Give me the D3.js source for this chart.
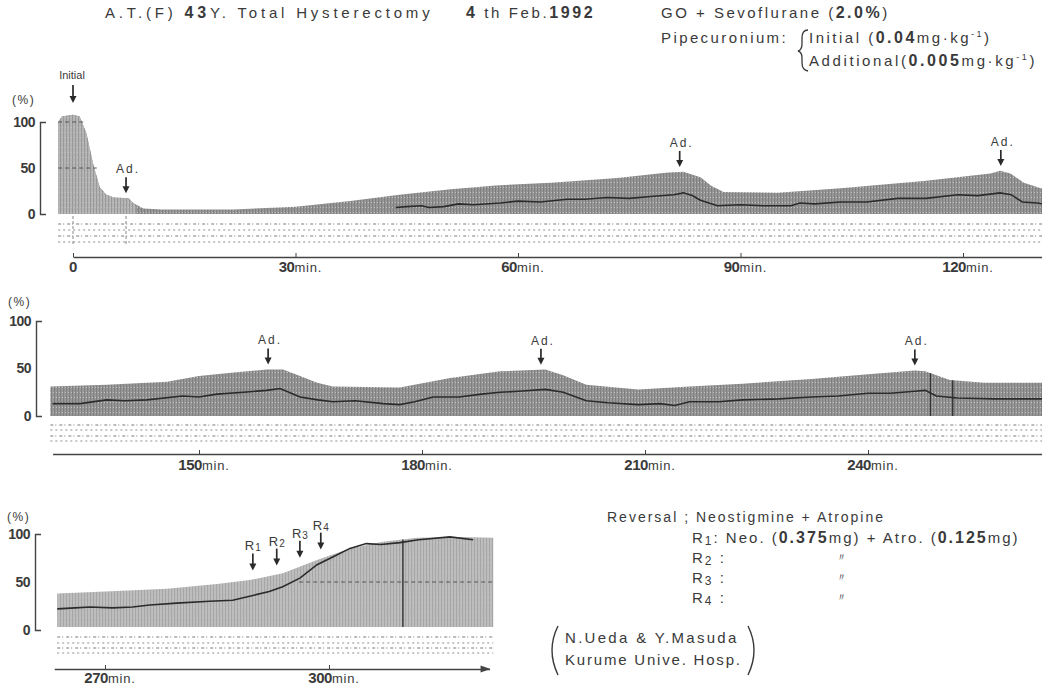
<!DOCTYPE html>
<html>
<head>
<meta charset="utf-8">
<script src="https://cdn.jsdelivr.net/npm/d3@7"></script>
<style>
body { margin: 0; background: #fff; }
text { font-family: "Liberation Sans", Arial, sans-serif; fill: #3a3a3a; }
</style>
</head>
<body>
<div class="chart"></div>
<script>
// readings off the record: [minute, %]
// envelope = height of the twitch bars, ratio = the dark trace inside
var env1 = [[-2,100],[-1.5,106],[0,108],[0.9,106],[1.8,88],[2.7,55],[3.6,29],[4.5,21],[5.5,18],[7.5,17],
    [8.1,12],[9.5,6],[12,5],[21.6,5],[30,8],[37.4,14],[44,21],[50.9,27],[57,31],[64.4,34],[73.4,39],
    [80.2,45],[82.3,46],[84.6,40],[86,31],[87.7,24],[95,23],[103.5,28],[114.7,36],[123.7,44],[125,47],
    [126.4,44],[128.2,34],[130.5,28],[131.5,27]];
var ratio1 = [[43.5,7],[45,8],[47,9],[48,7],[50,8],[52,11],[54,10],[57.6,12],[60,14],[63,13],[66.6,16],
    [69,16],[72,18],[75,17],[77.9,19],[81,21],[82.3,23],[83.5,20],[84.6,15],[86.9,9],[90,10],[93,9],
    [96.8,9],[98,12],[100,11],[103.5,13],[107,13],[111.2,17],[115,17],[119.3,21],[122,20],[125,23],
    [126.5,21],[128,13],[130,12],[131.5,10]];

var env2 = [[130,31],[137.6,33],[145.7,36],[150,42],[155,46],[159.1,49],[161.3,49],[163.6,42],[165.9,35],
    [168,31],[177,30],[183.8,40],[190.5,47],[196.6,49],[199,43],[202.1,33],[209.1,28],[216,31],
    [223.1,34],[232.4,39],[240,44],[246.3,48],[247.7,47],[251,38],[255.7,35],[263.1,35],[264,35]];
var ratio2 = [[130.3,13],[134,13],[137.6,17],[140,16],[143,17],[147.8,21],[150,20],[152.4,23],
    [156,25],[159.1,27],[160.9,29],[163.6,20],[166,17],[168,15],[171,16],[174.8,13],[177,12],
    [179,15],[181.5,20],[185,20],[188,23],[190.5,25],[193,26],[196.6,28],[199,25],[202.1,16],[205,14],
    [209.1,12],[212,13],[214,11],[216,15],[220,15],[223.1,17],[228,18],[232.4,20],[236,21],[240,24],
    [243,24],[246.3,26],[247.7,27],[249.2,21],[252,19],[257,18],[263.1,18],[264,18]];

var env3 = [[263.6,38],[270,40],[278.3,43],[285,48],[289.4,52],[293.8,59],[298.4,73],[302.8,85],
    [307.2,92],[311.8,96],[318,97],[322,96]];
var ratio3 = [[263.6,22],[266,23],[268,24],[271,23],[273.7,24],[276,26],[279.6,28],[284,30],
    [287.1,31],[289.8,36],[292,40],[293.8,45],[296.1,54],[298.4,68],[300.5,76],[302.8,85],[305,90],
    [307,89],[309.5,91],[312,94],[316.2,97],[319.3,94]];

var envFloor = [0, 0, 3];
var yTicks = [0, 50, 100];
var xTicks1 = [0, 30, 60, 90, 120];
var xTicks2 = [150, 180, 210, 240];
var xTicks3 = [270, 300];

var initialTime = 0;
var adTimes1 = [7.15, 81.8, 125.1];
var adTimes2 = [159.3, 196, 246.3];
var reversalTimes = [289.8, 293, 296.1, 298.9];
var reversalSubs = ["1", "2", "3", "4"];
var markTimes2 = [248.4, 251.4];
var markTimes3 = [309.9];
// dashed reference marks: [level %, from min, to min]
var refDash1 = [[100, -2, 1.5], [50, -2, 3.2]];
var refDash3 = [[50, 296, 322]];

var svgWidth = 1042;
var svgHeight = 686;

var svg = d3.select(".chart")
    .append("svg")
    .attr("width", svgWidth)
    .attr("height", svgHeight);

var defs = svg.append("defs");
function stripes(id, base, line) {
    var p = defs.append("pattern").attr("id", id)
        .attr("patternUnits", "userSpaceOnUse").attr("width", 3).attr("height", 5);
    p.append("rect").attr("width", 3).attr("height", 5).attr("fill", base);
    p.append("rect").attr("x", 0).attr("width", 1).attr("height", 5).attr("fill", line);
    p.append("rect").attr("x", 2).attr("y", 2).attr("width", 1).attr("height", 1).attr("fill", "#c4c4c4");
}
stripes("shade", "#969696", "#808080");
stripes("light", "#bcbcbc", "#a6a6a6");
stripes("early", "#b3b3b3", "#999999");

// one entry per strip of the record
var panels = [
    {env: env1, ratio: ratio1, floor: envFloor[0], ticks: xTicks1, px: [73, 963], tRange: [-2, 131.5],
     axisFrom: 0, axisTo: 131.5, yPx: [214, 122], axisX: 40, axisY: 257, labelY: 272, pctY: 104,
     band: [224, 230, 236, 242], fill: "url(#shade)", marks: [], dash: refDash1},
    {env: env2, ratio: ratio2, floor: envFloor[1], ticks: xTicks2, px: [199, 868], tRange: [130, 264],
     axisFrom: 130.3, axisTo: 264, yPx: [416, 321], axisX: 36, axisY: 454, labelY: 470, pctY: 306,
     band: [425, 430, 436, 441], fill: "url(#shade)", marks: markTimes2, dash: []},
    {env: env3, ratio: ratio3, floor: envFloor[2], ticks: xTicks3, px: [105, 329], tRange: [263.6, 322],
     axisFrom: 263.2, axisTo: 321.5, yPx: [630, 534], axisX: 35, axisY: 669, labelY: 683, pctY: 521,
     band: [637, 643, 648, 653], fill: "url(#light)", marks: markTimes3, dash: refDash3, arrow: true}
];

function downArrow(g, x, tipY, len) {
    g.append("line")
        .attr("x1", x).attr("x2", x)
        .attr("y1", tipY - len).attr("y2", tipY - 5)
        .attr("stroke", "#2a2a2a").attr("stroke-width", 1.7);
    g.append("path")
        .attr("d", "M" + (x - 3.5) + "," + (tipY - 7) + "L" + (x + 3.5) + "," + (tipY - 7) + "L" + x + "," + tipY + "Z")
        .attr("fill", "#2a2a2a");
}

function envAt(env, t) {
    var i = d3.bisector(d => d[0]).left(env, t);
    if (i <= 0) return env[0][1];
    if (i >= env.length) return env[env.length - 1][1];
    var a = env[i - 1], b = env[i];
    return a[1] + (b[1] - a[1]) * (t - a[0]) / (b[0] - a[0]);
}

panels.forEach(function(p, k) {
    var g = svg.append("g");
    var x = d3.scaleLinear().domain([p.ticks[0], p.ticks[p.ticks.length - 1]]).range(p.px);
    var y = d3.scaleLinear().domain([0, 100]).range(p.yPx);

    // grey bar envelope
    var area = d3.area()
        .x(d => x(d[0]))
        .y0(y(p.floor))
        .y1(d => y(d[1]));
    g.append("path").datum(p.env).attr("d", area).attr("fill", p.fill);

    if (k === 0) {
        // the first minutes are printed lighter
        defs.append("clipPath").attr("id", "earlyClip")
            .append("rect").attr("x", 0).attr("y", 0).attr("width", x(8.5)).attr("height", svgHeight);
        g.append("path").datum(p.env).attr("d", area)
            .attr("fill", "url(#early)").attr("clip-path", "url(#earlyClip)");
    }

    p.marks.forEach(function(t) {
        g.append("line")
            .attr("x1", x(t)).attr("x2", x(t))
            .attr("y1", y(envAt(p.env, t))).attr("y2", y(p.floor))
            .attr("stroke", "#333").attr("stroke-width", 1.4);
    });

    p.dash.forEach(function(d) {
        g.append("line")
            .attr("x1", x(d[1])).attr("x2", x(d[2]))
            .attr("y1", y(d[0])).attr("y2", y(d[0]))
            .attr("stroke", "#555").attr("stroke-width", 1.2)
            .attr("stroke-dasharray", "4,3");
    });

    // dark ratio trace
    g.append("path").datum(p.ratio)
        .attr("d", d3.line().x(d => x(d[0])).y(d => y(d[1])))
        .attr("fill", "none").attr("stroke", "#2b2b2b").attr("stroke-width", 1.6);

    // printed numeric rows under the record
    p.band.forEach(function(by, j) {
        g.append("line")
            .attr("x1", x(p.tRange[0])).attr("x2", Math.min(x(p.tRange[1]), svgWidth))
            .attr("y1", by).attr("y2", by)
            .attr("stroke", j % 2 ? "#b4b4b4" : "#a6a6a6")
            .attr("stroke-width", 1.6)
            .attr("stroke-dasharray", j % 2 ? "2,3" : "3,2,1,3");
    });

    // y axis bracket
    var leftAxis = d3.axisLeft(y).tickValues(yTicks)
        .tickSizeInner(0).tickSizeOuter(-6).tickPadding(5);
    var ya = g.append("g").attr("transform", "translate(" + p.axisX + ",0)").call(leftAxis);
    ya.select(".domain").attr("stroke", "#444").attr("stroke-width", 1.4);
    ya.selectAll("text")
        .style("font-size", "14px").style("font-weight", "bold")
        .style("letter-spacing", "-0.5px").attr("fill", "#3a3a3a");

    g.append("text").attr("x", p.axisX - 28).attr("y", p.pctY)
        .style("font-size", "12px").style("letter-spacing", "1.5px").text("(%)");

    // time axis
    var tx = x.copy().domain([p.axisFrom, p.axisTo]).range([x(p.axisFrom), x(p.axisTo)]);
    var bottomAxis = d3.axisTop(tx).tickValues(p.ticks).tickSizeInner(4).tickSizeOuter(0).tickFormat("");
    var xa = g.append("g").attr("transform", "translate(0," + p.axisY + ")").call(bottomAxis);
    xa.select(".domain").attr("stroke", "#444").attr("stroke-width", 1.6);
    xa.selectAll(".tick line").attr("stroke", "#444");
    if (p.arrow) {
        var ax = tx(p.axisTo);
        g.append("path")
            .attr("d", "M" + (ax - 9) + "," + (p.axisY - 3.5) + "L" + (ax + 1) + "," + p.axisY + "L" + (ax - 9) + "," + (p.axisY + 3.5) + "Z")
            .attr("fill", "#444");
    }

    p.ticks.forEach(function(t) {
        var lbl = g.append("text")
            .attr("x", x(t) + (t === 0 ? 0 : 5))
            .attr("y", p.labelY)
            .attr("text-anchor", "middle");
        lbl.append("tspan").text(t).style("font-weight", "bold").style("font-size", "15px")
            .style("letter-spacing", "-0.5px");
        if (t !== 0) lbl.append("tspan").text("min.").style("font-size", "13px").style("letter-spacing", "0.8px");
    });

    p.x = x;
    p.y = y;
    p.g = g;
});

// dosing arrows
var p1 = panels[0], p2 = panels[1], p3 = panels[2];

var ix = p1.x(initialTime);
downArrow(p1.g, ix, 103, 18);
p1.g.append("text").attr("x", ix - 1).attr("y", 79).attr("text-anchor", "middle")
    .style("font-size", "11px").text("Initial");
// small markers in the printed rows
[initialTime, adTimes1[0]].forEach(function(t) {
    p1.g.append("line").attr("x1", p1.x(t)).attr("x2", p1.x(t))
        .attr("y1", 216).attr("y2", 246)
        .attr("stroke", "#888").attr("stroke-width", 1).attr("stroke-dasharray", "3,2");
});

function adMarks(p, times) {
    times.forEach(function(t) {
        var tip = p.y(envAt(p.env, t)) - 5;
        downArrow(p.g, p.x(t), tip, 16);
        p.g.append("text").attr("x", p.x(t) + 2).attr("y", tip - 20)
            .attr("text-anchor", "middle")
            .style("font-size", "12px").style("letter-spacing", "2px").text("Ad.");
    });
}
adMarks(p1, adTimes1);
adMarks(p2, adTimes2);

reversalTimes.forEach(function(t, i) {
    var tip = p3.y(envAt(p3.env, t)) - 9;
    downArrow(p3.g, p3.x(t), tip, 17);
    var lbl = p3.g.append("text").attr("x", p3.x(t)).attr("y", tip - 20)
        .attr("text-anchor", "middle").style("font-size", "13px");
    lbl.append("tspan").text("R");
    lbl.append("tspan").text(reversalSubs[i]).style("font-size", "10px").attr("dx", 1).attr("dy", 1);
});

// --- text blocks ---
function rich(x, yy, segs, size, spacing) {
    var t = svg.append("text").attr("x", x).attr("y", yy)
        .style("font-size", size + "px").style("letter-spacing", spacing + "px");
    var shift = 0;
    segs.forEach(function(s) {
        var ts = t.append("tspan").text(s[0]);
        var want = 0;
        if (s[1] === "b") ts.style("font-weight", "bold").style("font-size", (size + 1) + "px");
        if (s[1] === "sup") { want = -6; ts.style("font-size", "9px"); }
        if (s[1] === "sub") { want = 2; ts.style("font-size", (size - 3) + "px"); }
        if (want !== shift) { ts.attr("dy", want - shift); shift = want; }
    });
    return t;
}

rich(105, 18, [["A.T.(F) ", ""], ["43", "b"], ["Y. Total Hysterectomy", ""]], 15, 3.8);
rich(466, 18, [["4", "b"], [" th Feb.", ""], ["1992", "b"]], 15, 2.6);
rich(661, 18, [["GO + Sevoflurane (", ""], ["2.0%", "b"], [")", ""]], 15, 2.5);
rich(661, 43, [["Pipecuronium:", ""]], 15, 2.4);
rich(809, 43, [["Initial (", ""], ["0.04", "b"], ["mg\u00b7kg", ""], ["-1", "sup"], [")", ""]], 15, 2.5);
rich(809, 66, [["Additional(", ""], ["0.005", "b"], ["mg\u00b7kg", ""], ["-1", "sup"], [")", ""]], 15, 2.6);
svg.append("path")
    .attr("d", "M808,30 Q802,30 802,38 L802,44 Q802,50 798,51 Q802,52 802,58 L802,63 Q802,70 808,71")
    .attr("fill", "none").attr("stroke", "#3a3a3a").attr("stroke-width", 1.3);

rich(607, 522, [["Reversal ; Neostigmine + Atropine", ""]], 14, 2.0);
rich(692, 543, [["R", ""], ["1", "sub"], [": Neo. (", ""], ["0.375", "b"], ["mg) + Atro. (", ""], ["0.125", "b"], ["mg)", ""]], 15, 2.0);
reversalSubs.slice(1).forEach(function(s, i) {
    var yy = 563 + i * 20;
    rich(692, yy, [["R", ""], [s, "sub"], [" :", ""]], 15, 2.0);
    svg.append("text").attr("x", 836).attr("y", yy - 2).style("font-size", "11px").text("\u3003");
});

rich(565, 643, [["N.Ueda & Y.Masuda", ""]], 15, 2.3);
rich(565, 665, [["Kurume Unive. Hosp.", ""]], 15, 1.8);
svg.append("path").attr("d", "M558,626 Q546,650 558,675")
    .attr("fill", "none").attr("stroke", "#3a3a3a").attr("stroke-width", 1.4);
svg.append("path").attr("d", "M748,626 Q760,650 748,675")
    .attr("fill", "none").attr("stroke", "#3a3a3a").attr("stroke-width", 1.4);
</script>
</body>
</html>
